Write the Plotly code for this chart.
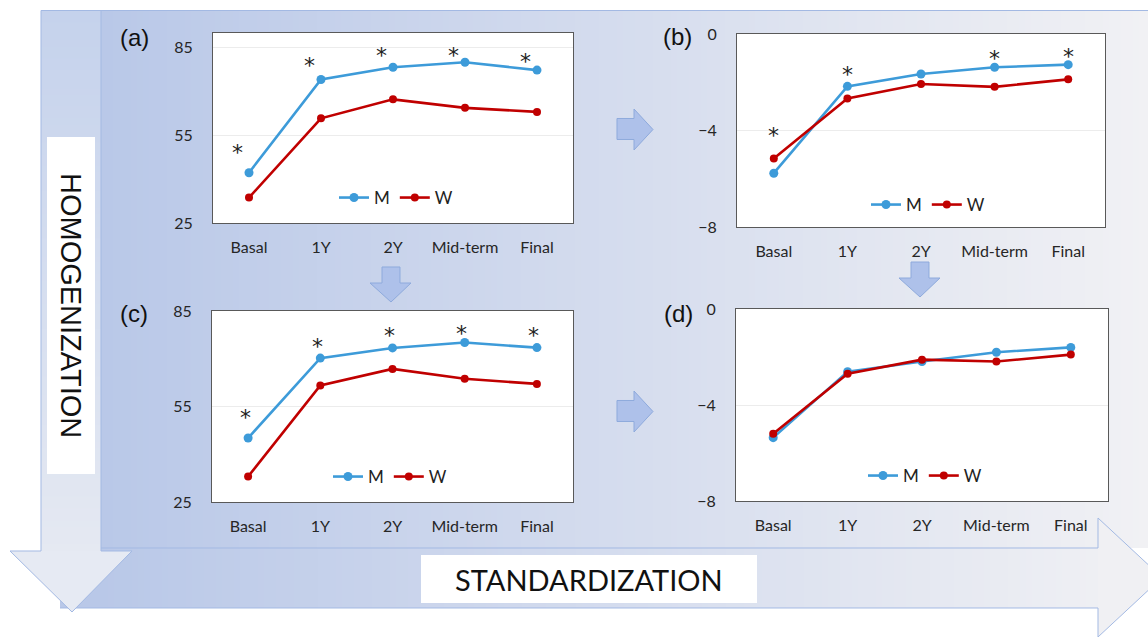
import plotly.graph_objects as go

# ---------------- data ----------------
categories = ["Basal", "1Y", "2Y", "Mid-term", "Final"]

a_M = [42.2, 74.1, 78.3, 80.0, 77.3]
a_W = [33.7, 60.8, 67.3, 64.4, 63.0]
a_star = [51.2, 80.8, 84.2, 84.2, 82.3]

b_M = [-5.77, -2.17, -1.66, -1.38, -1.27]
b_W = [-5.16, -2.67, -2.07, -2.19, -1.88]
b_star = [-3.97, -1.42, None, -0.76, -0.69]

c_M = [45.1, 70.2, 73.4, 75.1, 73.5]
c_W = [33.0, 61.6, 66.8, 63.7, 62.1]
c_star = [53.4, 75.7, 79.1, 79.9, 79.1]

d_M = [-5.36, -2.61, -2.19, -1.80, -1.60]
d_W = [-5.20, -2.70, -2.11, -2.19, -1.90]
d_star = [None, None, None, None, None]

ticks_ac = [25, 55, 85]
ticks_bd = [-8, -4, 0]
panel_labels = ["(a)", "(b)", "(c)", "(d)"]

# ---------------- layout helpers ----------------
W, H = 1148, 637
BLUE = "#3d9bd9"
RED = "#c00000"
OUTLINE = "#a3b9e3"


def px(x):
    return x / W


def py(y):
    return 1 - y / H


def rgb(c):
    return "rgb(%d,%d,%d)" % tuple(int(round(v)) for v in c)


def lerp(c0, c1, t):
    t = max(0.0, min(1.0, t))
    return tuple(a + (b - a) * t for a, b in zip(c0, c1))


shapes = []


def rect(x0, y0, x1, y1, fill, line=None, lw=0):
    shapes.append(dict(type="rect", xref="paper", yref="paper",
                       x0=px(x0), x1=px(x1), y0=py(y1), y1=py(y0),
                       fillcolor=fill, line=dict(width=lw, color=line or fill),
                       layer="below"))


def poly(points, fill, line, lw, close=True):
    d = "M " + " L ".join("%f,%f" % (px(x), py(y)) for x, y in points)
    if close:
        d += " Z"
    shapes.append(dict(type="path", xref="paper", yref="paper", path=d,
                       fillcolor=fill, line=dict(width=lw, color=line),
                       layer="below"))


# background gradient panel (horizontal gradient)
G0 = (185, 200, 232)
G1 = (241, 241, 244)
gx0, gx1 = 101, 1148


def gcol(x):
    return lerp(G0, G1, (x - gx0) / (gx1 - gx0))


step = 6
x = gx0
while x < gx1:
    rect(x, 10.5, min(x + step + 1, gx1), 548, rgb(gcol(x + step / 2)))
    x += step
poly([(101, 10.5), (1148, 10.5)], "rgba(0,0,0,0)", OUTLINE, 1, close=False)

# horizontal arrow (STANDARDIZATION)
x = 60
while x < 1098:
    rect(x, 548, min(x + step + 1, 1098), 608, rgb(gcol(max(x + step / 2, gx0))))
    x += step
poly([(1098, 518), (1162, 577.5), (1098, 637)], rgb((240, 240, 243)), rgb((240, 240, 243)), 0)
poly([(60, 548), (1098, 548), (1098, 518), (1162, 577.5), (1098, 637), (1098, 608), (60, 608)],
     "rgba(0,0,0,0)", OUTLINE, 1, close=False)

# vertical arrow (HOMOGENIZATION)
V0 = (197, 210, 236)
V1 = (229, 233, 242)
y = 10.5
while y < 551:
    rect(41, y, 101, min(y + step + 1, 551), rgb(lerp(V0, V1, (y - 10.5) / 540)))
    y += step
poly([(10, 551), (132, 551), (72, 612)], rgb((230, 234, 243)), rgb((230, 234, 243)), 0)
poly([(41, 551), (41, 10.5), (101, 10.5), (101, 551), (132, 551), (72, 612), (10, 551)],
     "rgba(0,0,0,0)", OUTLINE, 1)

# white label boxes
rect(47, 137, 95, 474, "white")
rect(421, 555, 757, 603, "white")

# small arrows between panels
SA_FILL = "#aec1ea"
SA_LINE = "#8eaadc"


def right_arrow(cy):
    poly([(617, cy - 11), (634, cy - 11), (634, cy - 20.5), (653, cy),
          (634, cy + 20.5), (634, cy + 10), (617, cy + 10)], SA_FILL, SA_LINE, 1)


def down_arrow(cx, top):
    poly([(cx - 9, top), (cx + 9, top), (cx + 9, top + 16), (cx + 20, top + 16),
          (cx, top + 35), (cx - 21, top + 16), (cx - 9, top + 16)], SA_FILL, SA_LINE, 1)


right_arrow(129.5)
right_arrow(411.5)
down_arrow(391, 267)
down_arrow(920, 262)

# plot boxes
domains = {
    "a": ((213, 573), (33, 223)),
    "b": ((737, 1105), (34, 227)),
    "c": ((212, 573), (311, 502)),
    "d": ((736, 1108), (309, 501)),
}
for k, ((x0, x1), (y0, y1)) in domains.items():
    rect(x0, y0, x1, y1, "white")

# ---------------- traces ----------------
fig = go.Figure()
panels = [
    ("a", "x", "y", "legend", a_M, a_W, a_star, [25, 90], ticks_ac, -12),
    ("b", "x2", "y2", "legend2", b_M, b_W, b_star, [-8, 0], ticks_bd, 0),
    ("c", "x3", "y3", "legend3", c_M, c_W, c_star, [25, 85], ticks_ac, -3),
    ("d", "x4", "y4", "legend4", d_M, d_W, d_star, [-8, 0], ticks_bd, 0),
]

TICKFONT = dict(family="Lato, 'Open Sans', sans-serif", size=16, color="#262626")
annotations = []
layout_axes = {}
for i, (key, xa, ya, lg, mv, wv, stars, yr, tv, xs) in enumerate(panels):
    fig.add_trace(go.Scatter(x=categories, y=mv, mode="lines+markers", name="M",
                             line=dict(color=BLUE, width=2.6),
                             marker=dict(size=9, color=BLUE),
                             xaxis=xa, yaxis=ya, legend=lg))
    fig.add_trace(go.Scatter(x=categories, y=wv, mode="lines+markers", name="W",
                             line=dict(color=RED, width=2.6),
                             marker=dict(size=8, color=RED),
                             xaxis=xa, yaxis=ya, legend=lg))
    for cat, s in zip(categories, stars):
        if s is None:
            continue
        annotations.append(dict(x=cat, y=s, xref=xa, yref=ya, text="*",
                                showarrow=False, xshift=xs, yshift=-6,
                                font=dict(family="DejaVu Sans", size=22, color="#222")))
    (x0, x1), (y0, y1) = domains[key]
    xname = "xaxis" if xa == "x" else "xaxis" + xa[1:]
    yname = "yaxis" if ya == "y" else "yaxis" + ya[1:]
    layout_axes[xname] = dict(domain=[px(x0), px(x1)], anchor=ya, type="category",
                              range=[-0.5, 4.5], showgrid=False, zeroline=False,
                              showline=True, mirror=True, linecolor="#595959", linewidth=1,
                              ticks="", tickfont=TICKFONT, ticklabelstandoff=10,
                              fixedrange=True, automargin=False)
    layout_axes[yname] = dict(domain=[py(y1), py(y0)], anchor=xa, range=yr,
                              tickvals=tv, showgrid=True, gridcolor="#ececec",
                              zeroline=False, showline=True, mirror=True,
                              linecolor="#595959", linewidth=1, ticks="",
                              tickfont=TICKFONT, ticklabelstandoff=16, fixedrange=True,
                              automargin=False)

# panel labels
label_pos = [(134, 37), (677, 36), (134, 313), (678, 313)]
for text, (lx, ly) in zip(panel_labels, label_pos):
    annotations.append(dict(x=px(lx), y=py(ly), xref="paper", yref="paper", text=text,
                            showarrow=False, xanchor="center", yanchor="middle",
                            font=dict(family="Liberation Sans, Arial", size=24, color="#111")))

annotations.append(dict(x=px(71), y=py(305), xref="paper", yref="paper",
                        text="HOMOGENIZATION", textangle=90, showarrow=False,
                        xanchor="center", yanchor="middle",
                        font=dict(family="Liberation Sans, Arial", size=29, color="#111")))
annotations.append(dict(x=px(589), y=py(579), xref="paper", yref="paper",
                        text="STANDARDIZATION", showarrow=False,
                        xanchor="center", yanchor="middle",
                        font=dict(family="Lato, sans-serif", size=29, color="#111")))

LEGFONT = dict(family="Lato, 'Open Sans', sans-serif", size=17, color="#222")
legend_pos = {"legend": (396, 198), "legend2": (928, 205),
              "legend3": (390, 477), "legend4": (925, 476)}
legends = {}
for name, (lx, ly) in legend_pos.items():
    legends[name] = dict(orientation="h", x=px(lx), y=py(ly), xanchor="center",
                         yanchor="middle", bgcolor="rgba(0,0,0,0)", font=LEGFONT,
                         itemwidth=30, traceorder="normal", tracegroupgap=0)

fig.update_layout(
    width=W, height=H, margin=dict(l=0, r=0, t=0, b=0, pad=0, autoexpand=False),
    paper_bgcolor="white", plot_bgcolor="rgba(0,0,0,0)",
    shapes=shapes, annotations=annotations, showlegend=True,
    **layout_axes, **legends,
)

fig.write_html("out.html", config={"displayModeBar": False},
               post_script="document.body.style.margin='0px';document.body.style.overflow='hidden';")
